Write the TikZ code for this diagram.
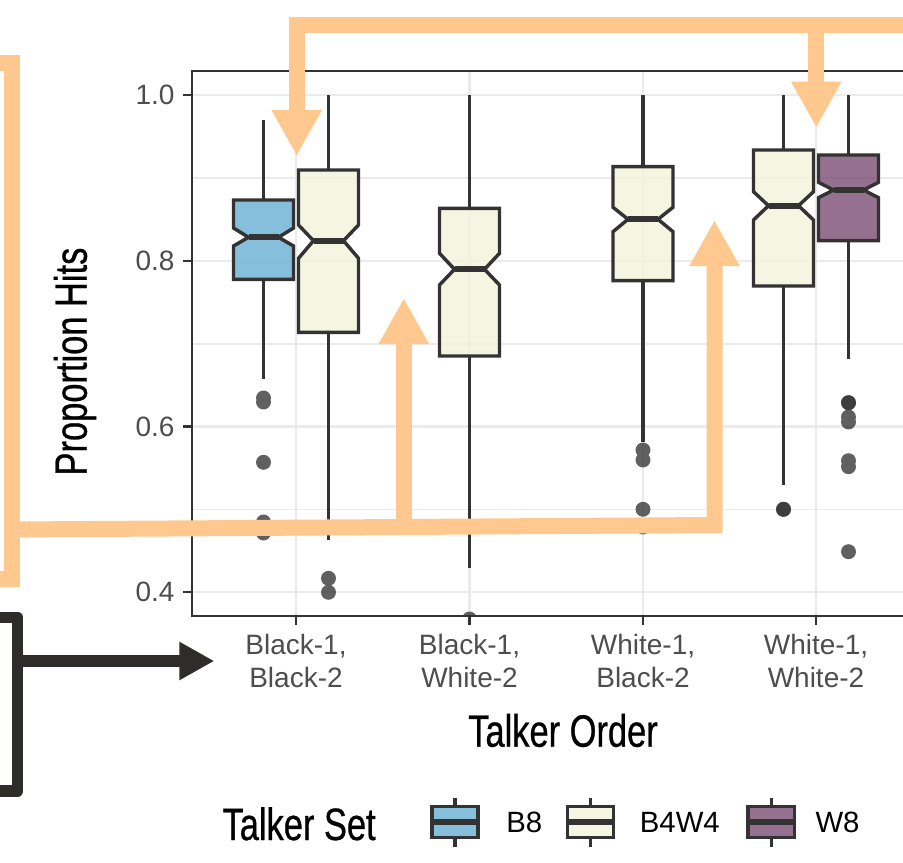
\documentclass[tikz,border=0pt]{standalone}
\usepackage{fontspec}
\setmainfont{Liberation Sans}
\newfontfamily\condfont[FakeStretch=0.76,FakeBold=0.6]{Liberation Sans}
\usetikzlibrary{arrows.meta}

\definecolor{boxline}{HTML}{333333}
\definecolor{setB}{HTML}{68AFD3}
\definecolor{setBW}{HTML}{F1F4DB}
\definecolor{setW}{HTML}{7C4C73}
\definecolor{hilite}{HTML}{FFC88F}
\definecolor{darkmark}{HTML}{2E2D29}
\definecolor{gridgray}{HTML}{EBEBEB}
\definecolor{ticktext}{HTML}{4D4D4D}

\tikzset{every picture/.style={line width=0.75pt}}
\tikzset{
  gridmajor/.style={draw=gridgray, line width=2.1pt},
  gridminor/.style={draw=gridgray, line width=1.2pt},
  panelframe/.style={draw=boxline, line width=1.4pt},
  tickmark/.style={draw=boxline, line width=2.1pt},
  whisker/.style={draw=boxline, line width=2.4pt},
  boxshape/.style={draw=boxline, line width=2.6pt, line join=miter, fill opacity=0.8},
  medianline/.style={draw=boxline, line width=4.4pt},
  outlier/.style={fill=boxline, fill opacity=0.78},
  ticklabel/.style={inner sep=0pt, text=ticktext, font=\fontsize{21}{24.75}\selectfont},
  axistitle/.style={inner sep=0pt, font=\condfont\fontsize{34}{40}\selectfont},
  keylabel/.style={inner sep=0pt, font=\fontsize{22}{26}\selectfont},
  orangeband/.style={draw=hilite, line width=12pt, line join=miter},
  orangehead/.style={-{Triangle[width=35.25pt,length=34.5pt]}},
  darkband/.style={draw=darkmark, line width=8.6pt, line join=round},
  darkhead/.style={-{Triangle[width=27pt,length=26.25pt]}}
}

\begin{document}
\begin{tikzpicture}[x=0.75pt,y=0.75pt,yscale=-1,xscale=1]
\useasboundingbox (0,0) rectangle (903,863);

\begin{scope}
\clip (192,71) rectangle (910,616);
%Straight Lines [minor grid]
\draw [gridminor] (192,178.3) -- (910,178.3) (192,343.7) -- (910,343.7) (192,509.3) -- (910,509.3) ;
%Straight Lines [major grid]
\draw [gridmajor] (192,95) -- (910,95) (192,261) -- (910,261) (192,426.5) -- (910,426.5) (192,592) -- (910,592) ;
\draw [gridmajor] (296,71) -- (296,616) (469.5,71) -- (469.5,616) (643,71) -- (643,616) (816,71) -- (816,616) ;

%Shape: Notched box [B8, Black-1 Black-2]
\draw [whisker] (263.5,120) -- (263.5,200) (263.5,279.3) -- (263.5,379) ;
\draw [boxshape, fill=setB] (233.5,200) -- (293.5,200) -- (293.5,228) -- (278.5,237.3) -- (293.5,246) -- (293.5,279.3) -- (233.5,279.3) -- (233.5,246) -- (248.5,237.3) -- (233.5,228) -- cycle ;
\draw [medianline] (248.5,237.3) -- (278.5,237.3) ;
%Shape: Notched box [B4W4, Black-1 Black-2]
\draw [whisker] (328.5,95.5) -- (328.5,170) (328.5,332.3) -- (328.5,540) ;
\draw [boxshape, fill=setBW] (298.5,170) -- (358.5,170) -- (358.5,225) -- (343.5,240.7) -- (358.5,258.3) -- (358.5,332.3) -- (298.5,332.3) -- (298.5,258.3) -- (313.5,240.7) -- (298.5,225) -- cycle ;
\draw [medianline] (313.5,240.7) -- (343.5,240.7) ;
%Shape: Notched box [B4W4, Black-1 White-2]
\draw [whisker] (469.5,95.5) -- (469.5,208.3) (469.5,356) -- (469.5,568) ;
\draw [boxshape, fill=setBW] (439.5,208.3) -- (499.5,208.3) -- (499.5,253.3) -- (484.5,269.3) -- (499.5,285) -- (499.5,356) -- (439.5,356) -- (439.5,285) -- (454.5,269.3) -- (439.5,253.3) -- cycle ;
\draw [medianline] (454.5,269.3) -- (484.5,269.3) ;
%Shape: Notched box [B4W4, White-1 Black-2]
\draw [whisker] (643,95.5) -- (643,166.7) (643,280.7) -- (643,441.7) ;
\draw [boxshape, fill=setBW] (613,166.7) -- (673,166.7) -- (673,207.3) -- (658,219.3) -- (673,231.7) -- (673,280.7) -- (613,280.7) -- (613,231.7) -- (628,219.3) -- (613,207.3) -- cycle ;
\draw [medianline] (628,219.3) -- (658,219.3) ;
%Shape: Notched box [B4W4, White-1 White-2]
\draw [whisker] (783.5,95.5) -- (783.5,150) (783.5,286) -- (783.5,485) ;
\draw [boxshape, fill=setBW] (753.5,150) -- (813.5,150) -- (813.5,191.7) -- (798.5,205.7) -- (813.5,220) -- (813.5,286) -- (753.5,286) -- (753.5,220) -- (768.5,205.7) -- (753.5,191.7) -- cycle ;
\draw [medianline] (768.5,205.7) -- (798.5,205.7) ;
%Shape: Notched box [W8, White-1 White-2]
\draw [whisker] (848.5,95.5) -- (848.5,155) (848.5,240.7) -- (848.5,359.3) ;
\draw [boxshape, fill=setW] (818.5,155) -- (878.5,155) -- (878.5,182.3) -- (863.5,190) -- (878.5,197.7) -- (878.5,240.7) -- (818.5,240.7) -- (818.5,197.7) -- (833.5,190) -- (818.5,182.3) -- cycle ;
\draw [medianline] (833.5,190) -- (863.5,190) ;

%Shape: Circle [outliers]
\fill [outlier] (263.5,398) circle (5.6pt) (263.5,402) circle (5.6pt) (263.5,462.3) circle (5.6pt) (263.5,522) circle (5.6pt) (263.5,533) circle (5.6pt) ;
\fill [outlier] (328.5,578.3) circle (5.6pt) (328.5,592.3) circle (5.6pt) ;
\fill [outlier] (469.5,619) circle (5.6pt) ;
\fill [outlier] (643,450) circle (5.6pt) (643,460) circle (5.6pt) (643,509.3) circle (5.6pt) (643,527) circle (5.6pt) ;
\fill [outlier] (783.5,509.3) circle (5.6pt) ;
\fill [outlier] (783.5,509.3) circle (5.6pt) ;
\fill [outlier] (848.5,402.7) circle (5.6pt) ;
\fill [outlier] (848.5,402.7) circle (5.6pt) (848.5,417) circle (5.6pt) (848.5,422) circle (5.6pt) (848.5,460.7) circle (5.6pt) (848.5,466.7) circle (5.6pt) (848.5,551.7) circle (5.6pt) ;
\end{scope}

%Shape: Rectangle [panel]
\draw [panelframe] (910,71) -- (192,71) -- (192,616) -- (910,616) ;
%Straight Lines [ticks]
\draw [tickmark] (183,95) -- (192,95) (183,261) -- (192,261) (183,426.5) -- (192,426.5) (183,592) -- (192,592) ;
\draw [tickmark] (296,616) -- (296,625) (469.5,616) -- (469.5,625) (643,616) -- (643,625) (816,616) -- (816,625) ;

% Text Node
\node (ylab1) [ticklabel, anchor=east] at (175,95) {1.0};
\node (ylab2) [ticklabel, anchor=east] at (175,261) {0.8};
\node (ylab3) [ticklabel, anchor=east] at (175,426.5) {0.6};
\node (ylab4) [ticklabel, anchor=east] at (175,592) {0.4};
% Text Node
\node (xlabBB) [ticklabel, anchor=north, align=center] at (296,634) {Black-1,\\Black-2};
\node (xlabBW) [ticklabel, anchor=north, align=center] at (469.5,634) {Black-1,\\White-2};
\node (xlabWB) [ticklabel, anchor=north, align=center] at (643,634) {White-1,\\Black-2};
\node (xlabWW) [ticklabel, anchor=north, align=center] at (816,634) {White-1,\\White-2};
% Text Node
\node (ytitle) [axistitle, rotate=90] at (75,361.5) {Proportion Hits};
\node (xtitle) [axistitle, anchor=base] at (563,746.7) {Talker Order};

%Legend
\node (legtitle) [axistitle, anchor=base west] at (222,840) {Talker Set};
\draw [whisker] (455,798) -- (455,806.7) (455,837.3) -- (455,846.7) (590.4,798) -- (590.4,806.7) (590.4,837.3) -- (590.4,846.7) (771.3,798) -- (771.3,806.7) (771.3,837.3) -- (771.3,846.7) ;
\draw [boxshape, fill=setB] (432,806.7) rectangle (478,837.3) ;
\draw [boxshape, fill=setBW] (567.4,806.7) rectangle (613.5,837.3) ;
\draw [boxshape, fill=setW] (748,806.7) rectangle (794.5,837.3) ;
\draw [medianline] (432,822) -- (478,822) (567.4,822) -- (613.5,822) (748,822) -- (794.5,822) ;
\node (legB8) [keylabel, anchor=base west] at (505.8,832.5) {B8};
\node (legB4W4) [keylabel, anchor=base west] at (639.4,832.5) {B4W4};
\node (legW8) [keylabel, anchor=base west] at (815,832.5) {W8};

%Orange highlight arrows
\coordinate (topin) at (910,24.7);
\coordinate (topcorner) at (296.7,24.7);
\coordinate (tipBB) at (296.7,156);
\coordinate (stemWW) at (816.3,33);
\coordinate (tipWW) at (816.3,127.7);
\coordinate (brtopout) at (-10,62.8);
\coordinate (brtop) at (12.4,62.8);
\coordinate (brbot) at (12.4,579);
\coordinate (brbotout) at (-10,579);
\coordinate (lowstart) at (12.4,529.5);
\coordinate (lowcorner) at (714.5,525);
\coordinate (tipWB) at (714.5,220);
\coordinate (midstem) at (403.8,527.2);
\coordinate (tipBW) at (403.8,298);
\draw [orangeband, orangehead] (topin) -- (topcorner) -- (tipBB) ;
\draw [orangeband, orangehead] (stemWW) -- (tipWW) ;
\draw [orangeband] (brtopout) -- (brtop) -- (brbot) -- (brbotout) ;
\draw [orangeband, orangehead] (lowstart) -- (lowcorner) -- (tipWB) ;
\draw [orangeband, orangehead] (midstem) -- (tipBW) ;

%Dark bracket arrow
\coordinate (dtopout) at (-10,617.5);
\coordinate (dtop) at (17.7,617.5);
\coordinate (dbot) at (17.7,791);
\coordinate (dbotout) at (-10,791);
\coordinate (dstem) at (17.7,661);
\coordinate (dtip) at (214.3,661);
\draw [darkband] (dtopout) -- (dtop) -- (dbot) -- (dbotout) ;
\draw [darkband, darkhead] (dstem) -- (dtip) ;

\end{tikzpicture}
\end{document}
